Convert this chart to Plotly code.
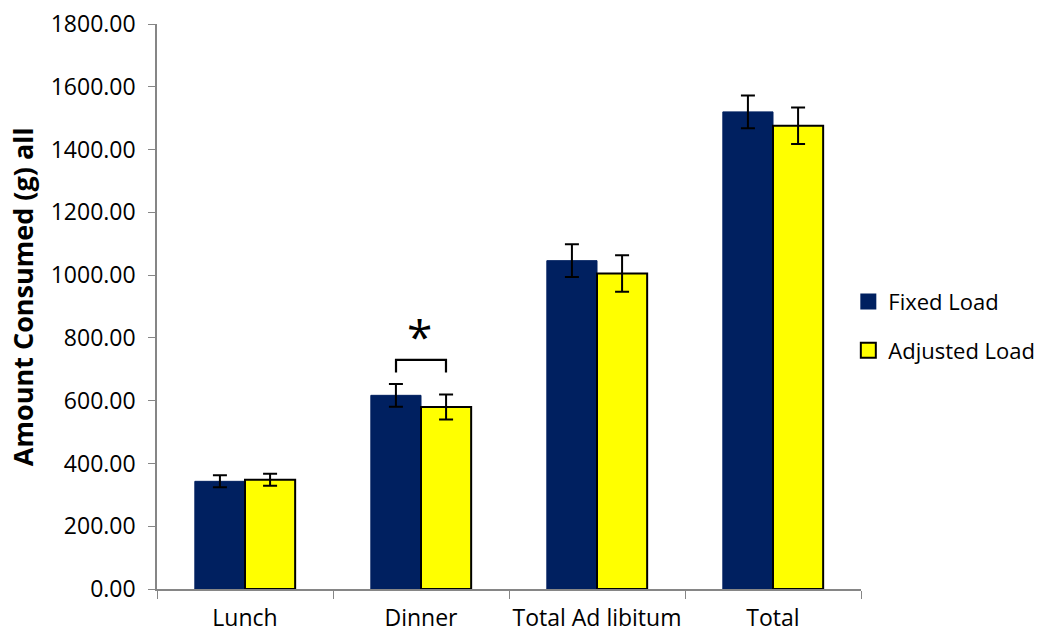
import plotly.graph_objects as go

categories = ["Lunch", "Dinner", "Total Ad libitum", "Total"]
fixed_load = [343, 617, 1046, 1520]
fixed_err = [19, 36, 52, 52]
adjusted_load = [348, 580, 1005, 1476]
adjusted_err = [19, 40, 58, 58]

NAVY = "#002060"
YELLOW = "#FFFF00"
FONT = "Open Sans"

fig = go.Figure()
fig.add_trace(go.Bar(
    name="Fixed Load", x=categories, y=fixed_load,
    marker=dict(color=NAVY, line=dict(color=NAVY, width=1)),
    error_y=dict(type="data", array=fixed_err, color="black", thickness=2, width=7),
    showlegend=False,
))
fig.add_trace(go.Bar(
    name="Adjusted Load", x=categories, y=adjusted_load,
    marker=dict(color=YELLOW, line=dict(color="black", width=2)),
    error_y=dict(type="data", array=adjusted_err, color="black", thickness=2, width=7),
    showlegend=False,
))

# legend keys with larger square swatches
fig.add_trace(go.Scatter(
    name="Fixed Load", x=[None], y=[None], mode="markers",
    marker=dict(symbol="square", size=16, color=NAVY, line=dict(color=NAVY, width=0)),
    legendgroup="a",
))
fig.add_trace(go.Scatter(
    name="Adjusted Load", x=[None], y=[None], mode="markers",
    marker=dict(symbol="square", size=15, color=YELLOW, line=dict(color="black", width=2)),
    legendgroup="b",
))

# significance bracket over the Dinner pair
half = 0.142
fig.add_shape(type="path", xref="x", yref="y",
              path=f"M {1-half},690 L {1-half},730 L {1+half},730 L {1+half},690",
              line=dict(color="black", width=2.2))
fig.add_annotation(x=0.99, y=805, xref="x", yref="y", text="*",
                   showarrow=False, font=dict(family=FONT, size=46, color="black"))

# y-axis title
fig.add_annotation(x=-0.19, y=0.517, xref="paper", yref="paper",
                   xanchor="center", yanchor="middle",
                   text="<b>Amount Consumed (g) all</b>", textangle=-90,
                   showarrow=False, font=dict(family=FONT, size=27, color="black"))

axis_color = "#868686"
fig.update_layout(
    width=1051, height=635,
    margin=dict(l=157, r=190, t=24, b=46, autoexpand=False),
    paper_bgcolor="white", plot_bgcolor="white",
    barmode="group", bargap=0.43, bargroupgap=0,
    font=dict(family=FONT, size=23, color="black"),
    showlegend=True,
    legend=dict(x=0.982, xanchor="left", y=0.465, yanchor="middle",
                tracegroupgap=17, font=dict(family=FONT, size=22),
                itemwidth=30),
    xaxis=dict(showline=True, linecolor=axis_color, linewidth=1.5,
               ticks="outside", tickson="boundaries", ticklen=8, tickcolor=axis_color,
               ticklabelstandoff=8, tickangle=0, automargin=False,
               tickfont=dict(family=FONT, size=23), showgrid=False, fixedrange=True),
    yaxis=dict(range=[0, 1800], dtick=200, tickformat=".2f",
               showline=True, linecolor=axis_color, linewidth=1.5,
               ticks="outside", ticklen=7, tickcolor=axis_color,
               ticklabelstandoff=8, automargin=False,
               tickfont=dict(family=FONT, size=23), showgrid=False, zeroline=False),
)

fig.write_html("out.html")
